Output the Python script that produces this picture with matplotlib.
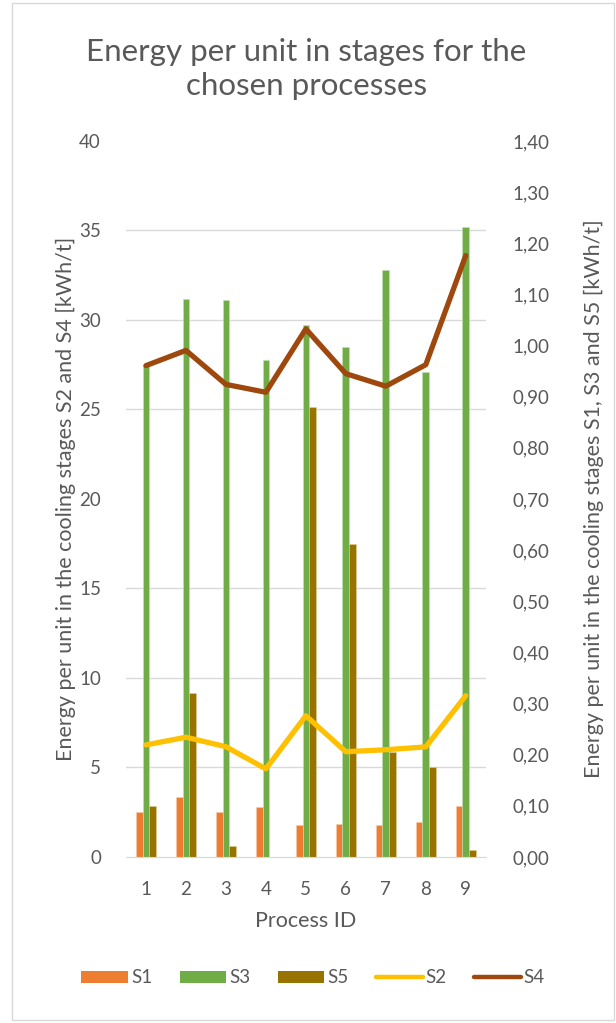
import numpy as np
import matplotlib
matplotlib.use("Agg")
import matplotlib.pyplot as plt
from matplotlib.patches import Rectangle, Patch
from matplotlib.lines import Line2D
from matplotlib.ticker import FuncFormatter

plt.rcParams['font.family'] = ['Lato', 'DejaVu Sans']

# ==========================================
# Data
# ==========================================
process_ids = [1, 2, 3, 4, 5, 6, 7, 8, 9]

# bars, right axis [kWh/t]
s1 = [0.088, 0.118, 0.088, 0.098, 0.063, 0.065, 0.062, 0.069, 0.100]
s3 = [0.962, 1.091, 1.089, 0.972, 1.041, 0.997, 1.148, 0.948, 1.232]
s5 = [0.100, 0.320, 0.022, 0.000, 0.879, 0.611, 0.206, 0.175, 0.014]

# lines, left axis [kWh/t]
s2 = [6.26, 6.69, 6.16, 4.92, 7.89, 5.88, 5.99, 6.15, 9.01]
s4 = [27.45, 28.3, 26.4, 25.96, 29.5, 27.0, 26.3, 27.5, 33.6]

left_ticks = [0, 5, 10, 15, 20, 25, 30, 35, 40]
right_ticks = [0.0, 0.1, 0.2, 0.3, 0.4, 0.5, 0.6, 0.7, 0.8, 0.9, 1.0, 1.1, 1.2, 1.3, 1.4]

C_S1 = '#ED7D31'
C_S3 = '#70AD47'
C_S5 = '#997300'
C_S2 = '#FFC000'
C_S4 = '#9E480E'
TXT = '#595959'
GRID = '#D9D9D9'

TICK_FS = 13.5
LABEL_FS = 15.5

fig = plt.figure(figsize=(6.16, 10.23), dpi=100)
ax = fig.add_axes([0.2045, 0.1623, 0.584, 0.6999])   # lines (left)
ax2 = ax.twinx()                                      # bars (right)
ax.set_zorder(ax2.get_zorder() + 1)
ax.patch.set_visible(False)

x = np.array(process_ids)
w = 0.167
ax2.bar(x - w, s1, w, color=C_S1, edgecolor='#F8CBAD', linewidth=0.4, zorder=3)
ax2.bar(x, s3, w, color=C_S3, edgecolor='#C5E0B4', linewidth=0.4, zorder=3)
ax2.bar(x + w, s5, w, color=C_S5, edgecolor='#E2CF99', linewidth=0.4, zorder=3)

ax.plot(x, s2, color=C_S2, linewidth=3.8, solid_capstyle='round', solid_joinstyle='round')
ax.plot(x, s4, color=C_S4, linewidth=3.8, solid_capstyle='round', solid_joinstyle='round')

ax.set_xlim(0.5, 9.5)
ax.set_ylim(0, 40)
ax2.set_ylim(0, 1.4)

ax.set_yticks(left_ticks)
ax2.set_yticks(right_ticks)
ax2.yaxis.set_major_formatter(FuncFormatter(lambda v, p: f"{v:.2f}".replace('.', ',')))
ax.set_xticks(process_ids)

# gridlines follow the left axis but sit behind the bars
ax2.set_yticks([t * 1.4 / 40 for t in left_ticks], minor=True)
ax2.grid(True, which='minor', axis='y', color=GRID, linewidth=1.0, zorder=0)
ax2.tick_params(which='minor', length=0)
ax2.set_axisbelow(True)

for a in (ax, ax2):
    for s in ('top', 'left', 'right'):
        a.spines[s].set_visible(False)
    a.spines['bottom'].set_color(GRID)
    a.tick_params(length=0, labelsize=TICK_FS, labelcolor=TXT)

ax.tick_params(axis='y', pad=18)
ax2.tick_params(axis='y', pad=19)
ax.tick_params(axis='x', pad=17)

ax.set_ylabel('Energy per unit in the cooling stages S2 and S4 [kWh/t]',
              fontsize=LABEL_FS, color=TXT, labelpad=2)
ax2.set_ylabel('Energy per unit in the cooling stages S1, S3 and S5 [kWh/t]',
               fontsize=LABEL_FS, color=TXT, labelpad=25)
ax.set_xlabel('Process ID', fontsize=LABEL_FS, color=TXT, labelpad=10)

fig.text(0.497, 0.9326, 'Energy per unit in stages for the\nchosen processes',
         ha='center', va='center', fontsize=22.5, color=TXT, linespacing=1.3)

handles = [
    Patch(facecolor=C_S1, label='S1'),
    Patch(facecolor=C_S3, label='S3'),
    Patch(facecolor=C_S5, label='S5'),
    Line2D([0], [0], color=C_S2, linewidth=3.2, solid_capstyle='round', label='S2'),
    Line2D([0], [0], color=C_S4, linewidth=3.2, solid_capstyle='round', label='S4'),
]
leg = fig.legend(handles=handles, loc='center', bbox_to_anchor=(0.508, 0.044), ncol=5,
                 frameon=False, fontsize=TICK_FS, handlelength=2.5, handleheight=0.65,
                 handletextpad=0.15, columnspacing=1.45)
for t in leg.get_texts():
    t.set_color(TXT)

# chart border
fig.patches.append(Rectangle((12 / 616, 3 / 1023), 602 / 616, 1017 / 1023,
                             transform=fig.transFigure, fill=False,
                             edgecolor=GRID, linewidth=1.0))

fig.savefig('out.png', dpi=100)
